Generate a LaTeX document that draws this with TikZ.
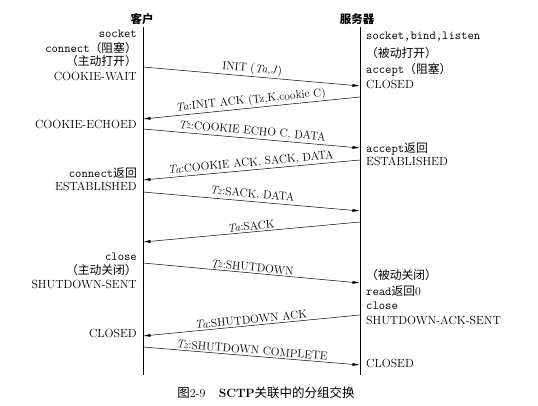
\documentclass[tikz,border=0pt]{standalone}
\usepackage{fontspec}
\newfontfamily\cjk{Noto Sans CJK SC}
\usetikzlibrary{arrows.meta}
\newcommand\myzh[1]{{\cjk#1}}
\newcommand\tm[1]{{\ttfamily\fontsize{12.3}{14}\selectfont#1}}
\begin{document}
\begin{tikzpicture}[x=1pt,y=-1pt,
  every node/.style={font=\fontsize{11.8}{14}\selectfont},
  lifeline/.style={line width=0.6pt},
  msg/.style={line width=0.5pt,-{Latex[length=7.5pt,width=3pt]}},
  lbl/.style={midway,above,sloped,inner sep=1.5pt,font=\fontsize{11.4}{13}\selectfont},
  lstate/.style={anchor=base east,inner sep=0pt},
  rstate/.style={anchor=base west,inner sep=0pt},
  ttl/.style={inner sep=0pt,font=\fontsize{11.5}{13}\selectfont\bfseries}]
\useasboundingbox (0,0) rectangle (538,406);
% titles
\node[ttl] (client) at (142,19) {\myzh{客户}};
\node[ttl] (server) at (357,19) {\myzh{服务器}};
% lifelines
\coordinate (ctop) at (143,27);
\coordinate (cbot) at (143,375);
\coordinate (stop) at (360,27);
\coordinate (sbot) at (360,375);
\draw[lifeline] (ctop) -- (cbot);
\draw[lifeline] (stop) -- (sbot);
% client states
\node[lstate] (c1) at (137,37.5) {\tm{socket}};
\node[lstate] (c2) at (137,53) {\tm{connect}\myzh{（阻塞）}};
\node[lstate] (c3) at (137,66) {\myzh{（主动打开）}};
\node[lstate] (c4) at (137,81) {COOKIE-WAIT};
\node[lstate] (c5) at (137,129) {COOKIE-ECHOED};
\node[lstate] (c6) at (137,178) {\tm{connect}\myzh{返回}};
\node[lstate] (c7) at (137,191) {ESTABLISHED};
\node[lstate] (c8) at (137,260.5) {\tm{close}};
\node[lstate] (c9) at (137,274) {\myzh{（主动关闭）}};
\node[lstate] (c10) at (137,288) {SHUTDOWN-SENT};
\node[lstate] (c11) at (137,337) {CLOSED};
% server states
\node[rstate] (s1) at (366,39.5) {\tm{socket,bind,listen}};
\node[rstate] (s2) at (366,58) {\myzh{（被动打开）}};
\node[rstate] (s3) at (366,74) {\tm{accept}\myzh{（阻塞）}};
\node[rstate] (s4) at (366,89) {CLOSED};
\node[rstate] (s5) at (366,153) {\tm{accept}\myzh{返回}};
\node[rstate] (s6) at (366,166) {ESTABLISHED};
\node[rstate] (s7) at (366,279) {\myzh{（被动关闭）}};
\node[rstate] (s8) at (366,295) {\tm{read}\myzh{返回}0};
\node[rstate] (s9) at (366,309.5) {\tm{close}};
\node[rstate] (s10) at (366,324) {SHUTDOWN-ACK-SENT};
\node[rstate] (s11) at (366,367) {CLOSED};
% message end points
\coordinate (a1) at (143,67);   \coordinate (b1) at (360,86);
\coordinate (b2) at (360,97);   \coordinate (a2) at (143,119);
\coordinate (a3) at (143,129);  \coordinate (b3) at (360,148);
\coordinate (b4) at (360,160);  \coordinate (a4) at (143,180);
\coordinate (a5) at (143,192);  \coordinate (b5) at (360,211);
\coordinate (b6) at (360,222);  \coordinate (a6) at (143,242);
\coordinate (a7) at (143,263);  \coordinate (b7) at (360,283);
\coordinate (b8) at (360,315);  \coordinate (a8) at (143,336);
\coordinate (a9) at (143,347);  \coordinate (b9) at (360,365);
% messages
\draw[msg] (a1) -- (b1) node[lbl] (m1) {INIT (\textit{Ta},\textit{J})};
\draw[msg] (b2) -- (a2) node[lbl] (m2) {\textit{Ta}:INIT ACK (Tz,K,cookie C)};
\draw[msg] (a3) -- (b3) node[lbl] (m3) {\textit{Tz}:COOKIE ECHO C, DATA};
\draw[msg] (b4) -- (a4) node[lbl] (m4) {\textit{Ta}:COOKIE ACK, SACK, DATA};
\draw[msg] (a5) -- (b5) node[lbl] (m5) {\textit{Tz}:SACK, DATA};
\draw[msg] (b6) -- (a6) node[lbl] (m6) {\textit{Ta}:SACK};
\draw[msg] (a7) -- (b7) node[lbl] (m7) {\textit{Tz}:SHUTDOWN};
\draw[msg] (b8) -- (a8) node[lbl] (m8) {\textit{Ta}:SHUTDOWN ACK};
\draw[msg] (a9) -- (b9) node[lbl] (m9) {\textit{Tz}:SHUTDOWN COMPLETE};
% caption
\node[anchor=base,inner sep=0pt,font=\fontsize{12}{14}\selectfont] (cap) at (266,397)
  {\myzh{\fontsize{12.5}{14}\selectfont 图}2-9\hspace{1.1em}\textbf{SCTP}\myzh{\fontsize{12.5}{14}\selectfont 关联中的分组交换}};
\end{tikzpicture}
\end{document}
